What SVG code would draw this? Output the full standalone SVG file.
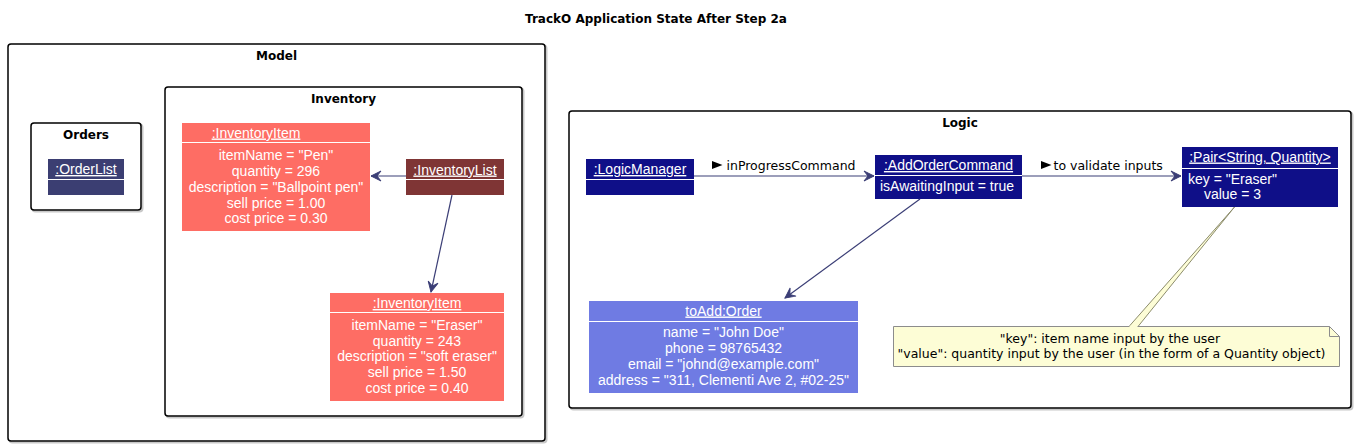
<svg xmlns="http://www.w3.org/2000/svg" width="1360" height="446" viewBox="0 0 1360 446">
<style>
.frame{fill:#ffffff;stroke:#000000;stroke-width:1.5}
.shadow{fill:none;stroke:#c8c8c8;stroke-width:2}
.ftitle{font-family:"DejaVu Sans",sans-serif;font-weight:bold;font-size:12px;fill:#000;text-anchor:middle}
.nt{font-family:"Liberation Sans",Arial,sans-serif;font-size:14px;fill:#ffffff;text-anchor:middle}
.hd{text-decoration:underline}
.sep{stroke:#ffffff;stroke-width:1}
.lbl{font-family:"DejaVu Sans",sans-serif;font-size:12.5px;fill:#000}
.note{font-family:"DejaVu Sans",sans-serif;font-size:12.5px;fill:#000;text-anchor:middle}
.conn{stroke:#3b3e76;stroke-width:1.2;fill:none}
</style>
<defs>
<marker id="ah" markerUnits="userSpaceOnUse" markerWidth="12" markerHeight="12" viewBox="-11 -6 12 12" refX="0" refY="0" orient="auto">
<path d="M0,0 L-10,-5 L-6,0 L-10,5 Z" fill="#3b3e76" stroke="#3b3e76" stroke-width="1"/>
</marker>
</defs>
<rect width="1360" height="446" fill="#ffffff"/>
<text x="656" y="23" class="ftitle">TrackO Application State After Step 2a</text>

<g id="Model">
<rect x="9.5" y="45.5" width="537" height="397" rx="3" class="shadow"/>
<rect x="8" y="44" width="537" height="397" rx="3" class="frame"/>
<text x="276.5" y="60" class="ftitle">Model</text>
</g>
<g id="Inventory">
<rect x="166.5" y="88.5" width="357" height="329" rx="3" class="shadow"/>
<rect x="165" y="87" width="357" height="329" rx="3" class="frame"/>
<text x="343.5" y="103" class="ftitle">Inventory</text>
</g>
<g id="Orders">
<rect x="32.5" y="124.5" width="110" height="87" rx="3" class="shadow"/>
<rect x="31" y="123" width="110" height="87" rx="3" class="frame"/>
<text x="86" y="139" class="ftitle">Orders</text>
</g>
<g id="Logic">
<rect x="570.5" y="112.5" width="782" height="297" rx="3" class="shadow"/>
<rect x="569" y="111" width="782" height="297" rx="3" class="frame"/>
<text x="960" y="127" class="ftitle">Logic</text>
</g>

<g id="OrderList">
<rect x="48" y="159" width="76" height="36" fill="#3b3e72"/>
<line x1="48" y1="179.5" x2="124" y2="179.5" class="sep"/>
<text x="86" y="174" class="nt hd">:OrderList</text>
</g>

<g id="InventoryItemPen">
<rect x="182" y="123" width="188" height="108" fill="#fe6d64"/>
<line x1="182" y1="142.5" x2="370" y2="142.5" class="sep"/>
<text x="256" y="137.5" class="nt hd">:InventoryItem</text>
<text x="276" y="159.5" class="nt">itemName = "Pen"</text>
<text x="276" y="175.5" class="nt">quantity = 296</text>
<text x="276" y="191.5" class="nt">description = "Ballpoint pen"</text>
<text x="276" y="207.5" class="nt">sell price = 1.00</text>
<text x="276" y="223" class="nt">cost price = 0.30</text>
</g>

<g id="InventoryList">
<rect x="406" y="159" width="98" height="36" fill="#7f3535"/>
<line x1="406" y1="179.5" x2="504" y2="179.5" class="sep"/>
<text x="455" y="174.5" class="nt hd">:InventoryList</text>
</g>

<g id="InventoryItemEraser">
<rect x="330" y="293" width="174" height="108" fill="#fe6d64"/>
<line x1="330" y1="312.5" x2="504" y2="312.5" class="sep"/>
<text x="417" y="308" class="nt hd">:InventoryItem</text>
<text x="417" y="329.5" class="nt">itemName = "Eraser"</text>
<text x="417" y="345.5" class="nt">quantity = 243</text>
<text x="417" y="361" class="nt">description = "soft eraser"</text>
<text x="417" y="377" class="nt">sell price = 1.50</text>
<text x="417" y="392.5" class="nt">cost price = 0.40</text>
</g>

<g id="LogicManager">
<rect x="586" y="159" width="108" height="36" fill="#0f0f88"/>
<line x1="586" y1="179.5" x2="694" y2="179.5" class="sep"/>
<text x="640" y="174" class="nt hd">:LogicManager</text>
</g>

<g id="AddOrderCommand">
<rect x="875" y="155" width="147" height="44" fill="#0f0f88"/>
<line x1="875" y1="175.5" x2="1022" y2="175.5" class="sep"/>
<text x="948.5" y="170" class="nt hd">:AddOrderCommand</text>
<text x="880" y="191" class="nt" style="text-anchor:start">isAwaitingInput = true</text>
</g>

<g id="Pair">
<rect x="1182" y="147" width="156" height="60" fill="#0f0f88"/>
<line x1="1182" y1="168.5" x2="1338" y2="168.5" class="sep"/>
<text x="1260" y="161.5" class="nt hd">:Pair&lt;String, Quantity&gt;</text>
<text x="1232.5" y="183.5" class="nt">key = "Eraser"</text>
<text x="1232.5" y="198.5" class="nt">value = 3</text>
</g>

<g id="Order">
<rect x="589" y="301" width="269" height="92" fill="#6f7be3"/>
<line x1="589" y1="321.5" x2="858" y2="321.5" class="sep"/>
<text x="723.5" y="315.5" class="nt hd">toAdd:Order</text>
<text x="723.5" y="337" class="nt">name = "John Doe"</text>
<text x="723.5" y="353" class="nt">phone = 98765432</text>
<text x="723.5" y="368.5" class="nt">email = "johnd@example.com"</text>
<text x="723.5" y="384.5" class="nt">address = "311, Clementi Ave 2, #02-25"</text>
</g>

<g id="Note">
<polygon points="1234.5,207 1129,326.5 1138,326.5" fill="#fdfdd6" stroke="#8c8c6c" stroke-width="1"/>
<path d="M893.5,326.5 L1329.5,326.5 L1339.5,336.5 L1339.5,366.5 L893.5,366.5 Z" fill="#fdfdd6" stroke="#8c8c8c" stroke-width="1"/>
<line x1="1129.5" y1="326.5" x2="1137.5" y2="326.5" stroke="#fdfdd6" stroke-width="1.5"/>
<path d="M1329.5,326.5 L1329.5,336.5 L1339.5,336.5" fill="none" stroke="#8c8c8c" stroke-width="1"/>
<text x="1110" y="343" class="note">"key": item name input by the user</text>
<text x="1111.5" y="358" class="note">"value": quantity input by the user (in the form of a Quantity object)</text>
</g>

<g id="connectors">
<line x1="406" y1="176" x2="371" y2="176" class="conn" marker-end="url(#ah)"/>
<line x1="452" y1="195" x2="431" y2="292" class="conn" marker-end="url(#ah)"/>
<line x1="694" y1="176" x2="874" y2="176" class="conn" marker-end="url(#ah)"/>
<polygon points="712,161 722.5,165 712,169" fill="#000"/>
<text x="726.5" y="169.5" class="lbl">inProgressCommand</text>
<line x1="1022" y1="176" x2="1181" y2="176" class="conn" marker-end="url(#ah)"/>
<polygon points="1041,161 1051.5,165 1041,169" fill="#000"/>
<text x="1053.5" y="169.5" class="lbl">to validate inputs</text>
<line x1="920" y1="199" x2="785" y2="298" class="conn" marker-end="url(#ah)"/>
</g>
</svg>
